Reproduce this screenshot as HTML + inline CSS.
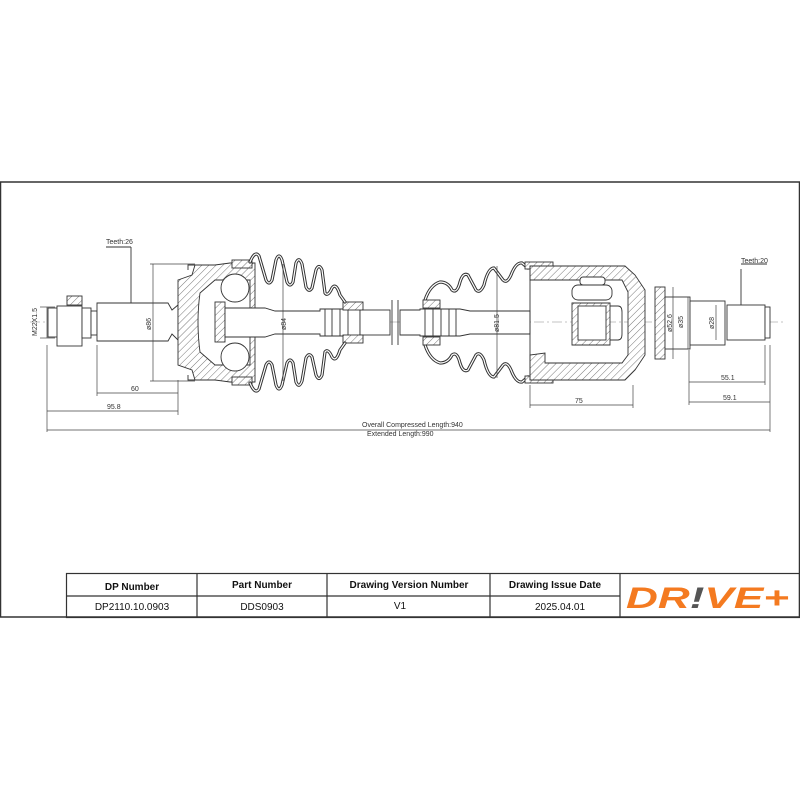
<!DOCTYPE html>
<html><head><meta charset="utf-8"><style>
body{margin:0;background:#fff;width:800px;height:800px;overflow:hidden}
svg{display:block}
text{font-family:"Liberation Sans",sans-serif}
</style></head><body>
<svg width="800" height="800" viewBox="0 0 800 800" xmlns="http://www.w3.org/2000/svg">
<defs>
<pattern id="h" width="5" height="5" patternUnits="userSpaceOnUse" patternTransform="rotate(45)">
<rect width="5" height="5" fill="#fff"/><line x1="0" y1="0" x2="0" y2="5" stroke="#555" stroke-width="0.8"/></pattern>
</defs>
<rect x="0.5" y="182" width="799" height="435" fill="none" stroke="#333" stroke-width="1.5"/>
<line x1="30" y1="322" x2="785" y2="322" stroke="#888" stroke-width="0.6" stroke-dasharray="10,3,2,3"/>
<g stroke="#333" stroke-width="0.9" fill="#fff">
<rect x="67" y="296" width="15" height="9" fill="url(#h)"/>
<rect x="48" y="308" width="18" height="29"/>
<rect x="57" y="306" width="25" height="40"/>
<rect x="82" y="308" width="9" height="30"/>
<rect x="91" y="311" width="6" height="24"/>
<path d="M97 303 H168 L172 310 L178 305 V340 L172 334 L168 341 H97 Z"/>
<line x1="131" y1="247" x2="131" y2="303"/>
<line x1="106" y1="247" x2="131" y2="247"/>
<path d="M178 280 L192 275 L195 265 L215 265 L230 263 H255 V382 H230 L215 380 L195 380 L192 370 L178 365 Z" fill="url(#h)"/>
<path d="M188 270 V265 H195 M188 375 V380 H195" fill="none"/>
<path d="M200 293 Q196 322 200 352 L215 365 H250 V280 H215 Z" />
<circle cx="235" cy="288" r="14"/>
<circle cx="235" cy="357" r="14"/>
<rect x="215" y="302" width="10" height="40" fill="url(#h)"/>
<path d="M225 308 H265 L275 311 H320 V309 H360 V336 H320 V334 H275 L265 337 H225 Z"/>
<rect x="360" y="310" width="30" height="25"/>
<line x1="325" y1="309" x2="325" y2="336"/><line x1="332" y1="309" x2="332" y2="336"/><line x1="340" y1="309" x2="340" y2="336"/><line x1="348" y1="309" x2="348" y2="336"/>
<rect x="343" y="302" width="20" height="8" fill="url(#h)"/>
<rect x="343" y="335" width="20" height="8" fill="url(#h)"/>
<rect x="232" y="260" width="20" height="8" fill="url(#h)"/>
<rect x="232" y="377" width="20" height="8" fill="url(#h)"/>
</g>
<g fill="none" stroke-linejoin="round" stroke-linecap="round">
<g stroke="#333" stroke-width="3.2">
<path id="lb1" d="M250 262 Q255 250 259 256 L266 280 Q269 286 272 280 L276 260 Q279 252 282 260 L287 282 Q290 288 293 282 L296 263 Q299 256 302 264 L306 287 Q309 293 312 288 L316 270 Q319 263 322 270 L325 293 Q328 297 332 288 Q336 282 340 295 L345 302"/>
<path id="lb2" d="M250 383 Q255 395 259 389 L266 365 Q269 359 272 365 L276 385 Q279 393 282 385 L287 363 Q290 357 293 363 L296 382 Q299 389 302 381 L306 358 Q309 352 312 357 L316 375 Q319 382 322 375 L325 352 Q328 348 332 357 Q336 363 340 350 L345 343"/>
<path id="rb1" d="M425 300 Q430 285 440 282 Q448 282 452 290 Q457 294 460 282 Q463 272 468 275 L476 290 Q480 294 484 285 Q488 268 494 268 L503 280 Q507 284 511 275 Q516 262 522 263 L528 268"/>
<path id="rb2" d="M425 345 Q430 360 440 363 Q448 363 452 355 Q457 351 460 363 Q463 373 468 370 L476 355 Q480 351 484 360 Q488 377 494 377 L503 365 Q507 361 511 370 Q516 383 522 382 L528 377"/>
</g>
<g stroke="#fff" stroke-width="1.2">
<use href="#lb1"/><use href="#lb2"/><use href="#rb1"/><use href="#rb2"/>
</g>
</g>
<g stroke="#333" stroke-width="0.9" fill="#fff">
<line x1="392" y1="300" x2="392" y2="345"/><line x1="398" y1="300" x2="398" y2="345"/>
<path d="M400 310 H420 V309 H460 L470 311 H530 V334 H470 L460 336 H420 V335 H400 Z"/>
<line x1="425" y1="309" x2="425" y2="336"/><line x1="433" y1="309" x2="433" y2="336"/><line x1="441" y1="309" x2="441" y2="336"/><line x1="449" y1="309" x2="449" y2="336"/><line x1="456" y1="309" x2="456" y2="336"/>
<rect x="423" y="300" width="17" height="8" fill="url(#h)"/>
<rect x="423" y="337" width="17" height="8" fill="url(#h)"/>
<rect x="525" y="262" width="28" height="7" fill="url(#h)"/>
<rect x="525" y="376" width="28" height="7" fill="url(#h)"/>
<path d="M530 266 H625 L635 275 L645 290 V355 L635 370 L625 380 H530 V355 L545 353 L545 363 H622 L628 355 V292 L622 280 H530 Z" fill="url(#h)"/>
<path d="M530 266 V380" fill="none"/>
<rect x="572" y="285" width="40" height="15" rx="6"/>
<rect x="580" y="277" width="25" height="8" rx="3"/>
<path d="M572 303 H610 V345 H572 Z" fill="url(#h)"/>
<rect x="578" y="306" width="28" height="34"/>
<path d="M610 306 H618 Q622 306 622 312 V334 Q622 340 618 340 H610" fill="none"/>
<rect x="655" y="287" width="10" height="72" fill="url(#h)"/>
<rect x="665" y="297" width="25" height="52"/>
<rect x="690" y="301" width="35" height="44"/>
<rect x="727" y="305" width="38" height="35"/>
<rect x="765" y="307" width="5" height="31"/>
<line x1="741" y1="269" x2="741" y2="305"/>
<line x1="741" y1="264" x2="767" y2="264"/>
</g>
<g stroke="#444" stroke-width="0.7" fill="none">
<line x1="47" y1="307" x2="47" y2="338"/><line x1="40" y1="307" x2="55" y2="307"/><line x1="40" y1="338" x2="55" y2="338"/>
<line x1="153" y1="264" x2="153" y2="381"/><line x1="150" y1="264" x2="195" y2="264"/><line x1="150" y1="381" x2="195" y2="381"/>
<line x1="283" y1="264" x2="283" y2="381"/>
<line x1="497" y1="266" x2="497" y2="378"/>
<line x1="673" y1="287" x2="673" y2="359"/><line x1="688" y1="297" x2="688" y2="349"/>
<line x1="716" y1="305" x2="716" y2="340"/>
<line x1="97" y1="345" x2="97" y2="396"/><line x1="97" y1="393" x2="178" y2="393"/>
<line x1="178" y1="380" x2="178" y2="415"/><line x1="47" y1="411" x2="178" y2="411"/>
<line x1="47" y1="345" x2="47" y2="432"/><line x1="770" y1="345" x2="770" y2="432"/>
<line x1="47" y1="430" x2="770" y2="430"/>
<line x1="530" y1="385" x2="530" y2="408"/><line x1="633" y1="385" x2="633" y2="408"/><line x1="530" y1="405" x2="633" y2="405"/>
<line x1="689" y1="350" x2="689" y2="405"/><line x1="689" y1="382" x2="765" y2="382"/><line x1="765" y1="345" x2="765" y2="385"/>
<line x1="689" y1="402" x2="770" y2="402"/>
</g>
<g font-size="7" fill="#333">
<text x="106" y="244">Teeth:26</text>
<text x="741" y="263">Teeth:20</text>
<text x="131" y="391">60</text>
<text x="107" y="409">95.8</text>
<text x="575" y="403">75</text>
<text x="721" y="380">55.1</text>
<text x="723" y="400">59.1</text>
<text x="362" y="427">Overall  Compressed  Length:940</text>
<text x="367" y="436">Extended  Length:990</text>
<text transform="translate(37,336) rotate(-90)">M22X1.5</text>
<text transform="translate(151,330) rotate(-90)">ø86</text>
<text transform="translate(286,330) rotate(-90)">ø84</text>
<text transform="translate(499,332) rotate(-90)">ø81.5</text>
<text transform="translate(672,332) rotate(-90)">ø52.6</text>
<text transform="translate(683,328) rotate(-90)">ø35</text>
<text transform="translate(714,329) rotate(-90)">ø28</text>
</g>
<g stroke="#333" stroke-width="1.2" fill="none">
<rect x="66.5" y="573.5" width="733" height="44"/>
<line x1="66" y1="596" x2="620" y2="596"/>
<line x1="197" y1="573" x2="197" y2="617"/>
<line x1="327" y1="573" x2="327" y2="617"/>
<line x1="490" y1="573" x2="490" y2="617"/>
<line x1="620" y1="573" x2="620" y2="617"/>
</g>
<g font-size="10" fill="#111" text-anchor="middle">
<text x="132" y="590" font-weight="bold">DP Number</text>
<text x="262" y="588" font-weight="bold">Part Number</text>
<text x="409" y="588" font-weight="bold">Drawing Version Number</text>
<text x="555" y="588" font-weight="bold">Drawing Issue Date</text>
<text x="132" y="610">DP2110.10.0903</text>
<text x="262" y="610">DDS0903</text>
<text x="400" y="609">V1</text>
<text x="560" y="610">2025.04.01</text>
</g>
<text x="626" y="608" font-size="30" font-weight="bold" font-style="italic" fill="#f47a20" textLength="163" lengthAdjust="spacingAndGlyphs">DR<tspan fill="#555">!</tspan>VE+</text>
</svg>
</body></html>
